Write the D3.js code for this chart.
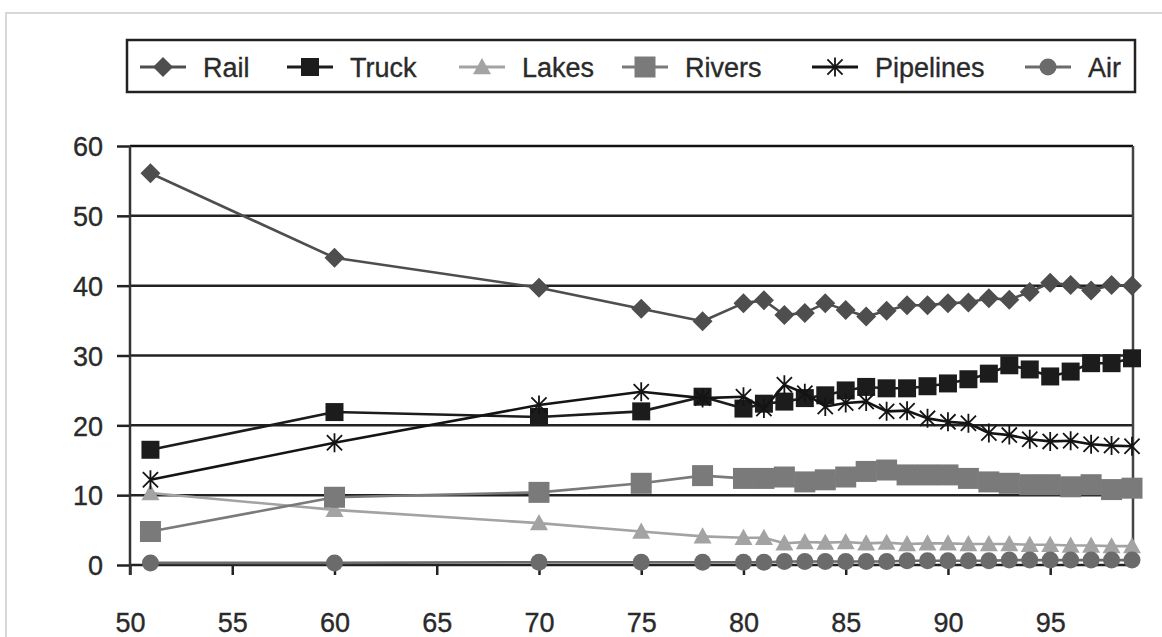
<!DOCTYPE html>
<html>
<head>
<meta charset="utf-8">
<script src="https://cdn.jsdelivr.net/npm/d3@7"></script>
<style>
  html, body { margin: 0; padding: 0; background: #fff; }
  svg { display: block; font-family: "Liberation Sans", Arial, sans-serif; }
</style>
</head>
<body>
<svg id="chart" width="1162" height="637"></svg>
<script>
// years on the x axis (19xx)
const years = [51, 60, 70, 75, 78, 80, 81, 82, 83, 84, 85, 86, 87, 88, 89, 90, 91, 92, 93, 94, 95, 96, 97, 98, 99];

// share of freight, percent
const rail = [56.1, 44.0, 39.7, 36.7, 34.9, 37.5, 37.9, 35.8, 36.1, 37.5, 36.5, 35.6, 36.4, 37.2, 37.2, 37.5, 37.6, 38.2, 38.0, 39.1, 40.4, 40.1, 39.3, 40.1, 40.0];
const truck = [16.5, 21.9, 21.2, 22.0, 24.1, 22.4, 23.1, 23.4, 23.9, 24.3, 25.0, 25.5, 25.3, 25.3, 25.6, 26.0, 26.6, 27.4, 28.6, 28.0, 27.0, 27.7, 28.9, 28.9, 29.6];
const lakes = [10.3, 7.9, 6.0, 4.8, 4.1, 3.9, 3.9, 3.1, 3.3, 3.2, 3.3, 3.1, 3.2, 3.0, 3.1, 3.1, 3.0, 3.0, 3.0, 2.9, 2.9, 2.8, 2.8, 2.7, 2.7];
const rivers = [4.8, 9.7, 10.4, 11.7, 12.8, 12.4, 12.4, 12.6, 11.9, 12.2, 12.6, 13.4, 13.6, 12.9, 12.9, 12.9, 12.4, 11.9, 11.7, 11.5, 11.5, 11.2, 11.5, 10.8, 11.0];
const pipelines = [12.2, 17.5, 22.9, 24.8, 23.9, 24.1, 22.4, 25.8, 24.6, 22.7, 23.2, 23.4, 22.0, 22.1, 21.0, 20.5, 20.3, 18.9, 18.6, 18.0, 17.7, 17.8, 17.3, 17.1, 17.0];
const air = [0.3, 0.3, 0.4, 0.4, 0.4, 0.4, 0.4, 0.5, 0.5, 0.5, 0.5, 0.5, 0.5, 0.6, 0.6, 0.6, 0.6, 0.6, 0.7, 0.7, 0.7, 0.7, 0.7, 0.7, 0.7];

const seriesNames = ['Rail', 'Truck', 'Lakes', 'Rivers', 'Pipelines', 'Air'];
const xTicks = [50, 55, 60, 65, 70, 75, 80, 85, 90, 95];
const yTicks = [0, 10, 20, 30, 40, 50, 60];

/**
 * Marker shapes, drawn around 0,0
 */
const markers = {
  diamond: r => `M0,${-r}L${r},0L0,${r}L${-r},0Z`,
  square: r => `M${-r},${-r}H${r}V${r}H${-r}Z`,
  triangle: r => `M0,${-r}L${r},${r * 0.8}H${-r}Z`,
  circle: r => `M${r},0A${r},${r} 0 1,1 ${-r},0A${r},${r} 0 1,1 ${r},0Z`,
  star: r => {
    const d = r * 0.8;
    return `M0,${-r}V${r}M${-d},${-d}L${d},${d}M${-d},${d}L${d},${-d}`;
  }
};

const series = [
  { name: 'Rail', values: rail, color: '#4e4e4e', shape: 'diamond', r: 10, fill: true },
  { name: 'Truck', values: truck, color: '#1c1c1c', shape: 'square', r: 9, fill: true },
  { name: 'Lakes', values: lakes, color: '#a3a3a3', shape: 'triangle', r: 9, fill: true },
  { name: 'Rivers', values: rivers, color: '#7a7a7a', shape: 'square', r: 10.5, fill: true },
  { name: 'Pipelines', values: pipelines, color: '#141414', shape: 'star', r: 9.5, fill: false },
  { name: 'Air', values: air, color: '#6b6b6b', shape: 'circle', r: 8.5, fill: true }
];

const textStyle = sel => sel
  .attr('font-size', 27)
  .attr('fill', '#2a2a2a')
  .attr('stroke', '#2a2a2a')
  .attr('stroke-width', 0.35)
  .attr('font-family', '"Liberation Sans", Arial, sans-serif');

const svg = d3.select('#chart');

const plot = { left: 130, right: 1133, top: 146, bottom: 565 };

const x = d3.scaleLinear().domain([50, 99]).range([plot.left, plot.right - 1]);
const y = d3.scaleLinear().domain([0, 60]).range([plot.bottom, plot.top]);

// outer frame
svg.append('path')
  .attr('d', 'M6,637V13H1162')
  .attr('fill', 'none')
  .attr('stroke', '#d8d8d8')
  .attr('stroke-width', 2);

/**
 * Gridlines and y axis
 */
const yAxis = svg.append('g')
  .attr('transform', `translate(${plot.left},0)`)
  .call(d3.axisLeft(y).tickValues(yTicks).tickSize(13).tickPadding(14).tickFormat(d3.format('d')));
yAxis.select('.domain').remove();
yAxis.selectAll('line').attr('stroke', '#222').attr('stroke-width', 2.5);
yAxis.selectAll('text')
  .call(textStyle)
  .attr('dy', '0.36em');

svg.append('g')
  .selectAll('line')
  .data(yTicks)
  .join('line')
  .attr('x1', plot.left)
  .attr('x2', plot.right)
  .attr('y1', d => y(d))
  .attr('y2', d => y(d))
  .attr('stroke', d => d === 60 ? '#111' : '#222')
  .attr('stroke-width', 2.5);

// right border of the plot
svg.append('line')
  .attr('x1', plot.right).attr('x2', plot.right)
  .attr('y1', plot.top).attr('y2', plot.bottom)
  .attr('stroke', '#444').attr('stroke-width', 2.5);

/**
 * X axis
 */
const xAxis = svg.append('g')
  .attr('transform', `translate(0,${plot.bottom})`)
  .call(d3.axisBottom(x).tickValues(xTicks).tickSize(10).tickPadding(38).tickFormat(d3.format('d')));
xAxis.select('.domain').remove();
xAxis.selectAll('line').attr('stroke', '#222').attr('stroke-width', 2.5);
xAxis.selectAll('text')
  .call(textStyle)
  .attr('dy', '0.71em');

// y axis line, drawn over the gridlines
svg.append('line')
  .attr('x1', plot.left).attr('x2', plot.left)
  .attr('y1', plot.top).attr('y2', plot.bottom + 10)
  .attr('stroke', '#333').attr('stroke-width', 2.5);

/**
 * Series lines and markers
 */
const line = d3.line()
  .x((d, i) => x(years[i]))
  .y(d => y(d));

series.forEach(s => {
  const g = svg.append('g');

  g.append('path')
    .datum(s.values)
    .attr('d', line)
    .attr('fill', 'none')
    .attr('stroke', s.color)
    .attr('stroke-width', 2.6)
    .attr('stroke-linejoin', 'round');

  g.selectAll('path.mark')
    .data(s.values)
    .join('path')
    .attr('class', 'mark')
    .attr('transform', (d, i) => `translate(${x(years[i])},${y(d)})`)
    .attr('d', markers[s.shape](s.r))
    .attr('fill', s.fill ? s.color : 'none')
    .attr('stroke', s.color)
    .attr('stroke-width', s.fill ? 0 : 1.8);
});

/**
 * Legend
 */
const legendTextX = [203, 350, 522, 685, 875, 1088];
const legendY = 67;

svg.append('rect')
  .attr('x', 127)
  .attr('y', 40)
  .attr('width', 1008)
  .attr('height', 52)
  .attr('fill', '#fff')
  .attr('stroke', '#222')
  .attr('stroke-width', 2.5);

const legend = svg.append('g')
  .selectAll('g')
  .data(series)
  .join('g')
  .attr('transform', (d, i) => `translate(${legendTextX[i]},${legendY})`);

legend.append('line')
  .attr('x1', -63).attr('x2', -17)
  .attr('stroke', d => d.color)
  .attr('stroke-width', 3);

legend.append('path')
  .attr('transform', 'translate(-40,0)')
  .attr('d', d => markers[d.shape](d.r))
  .attr('fill', d => d.fill ? d.color : 'none')
  .attr('stroke', d => d.color)
  .attr('stroke-width', d => d.fill ? 0 : 1.8);

legend.append('text')
  .attr('x', 0)
  .attr('dy', '0.36em')
  .call(textStyle)
  .text((d, i) => seriesNames[i]);
</script>
</body>
</html>
